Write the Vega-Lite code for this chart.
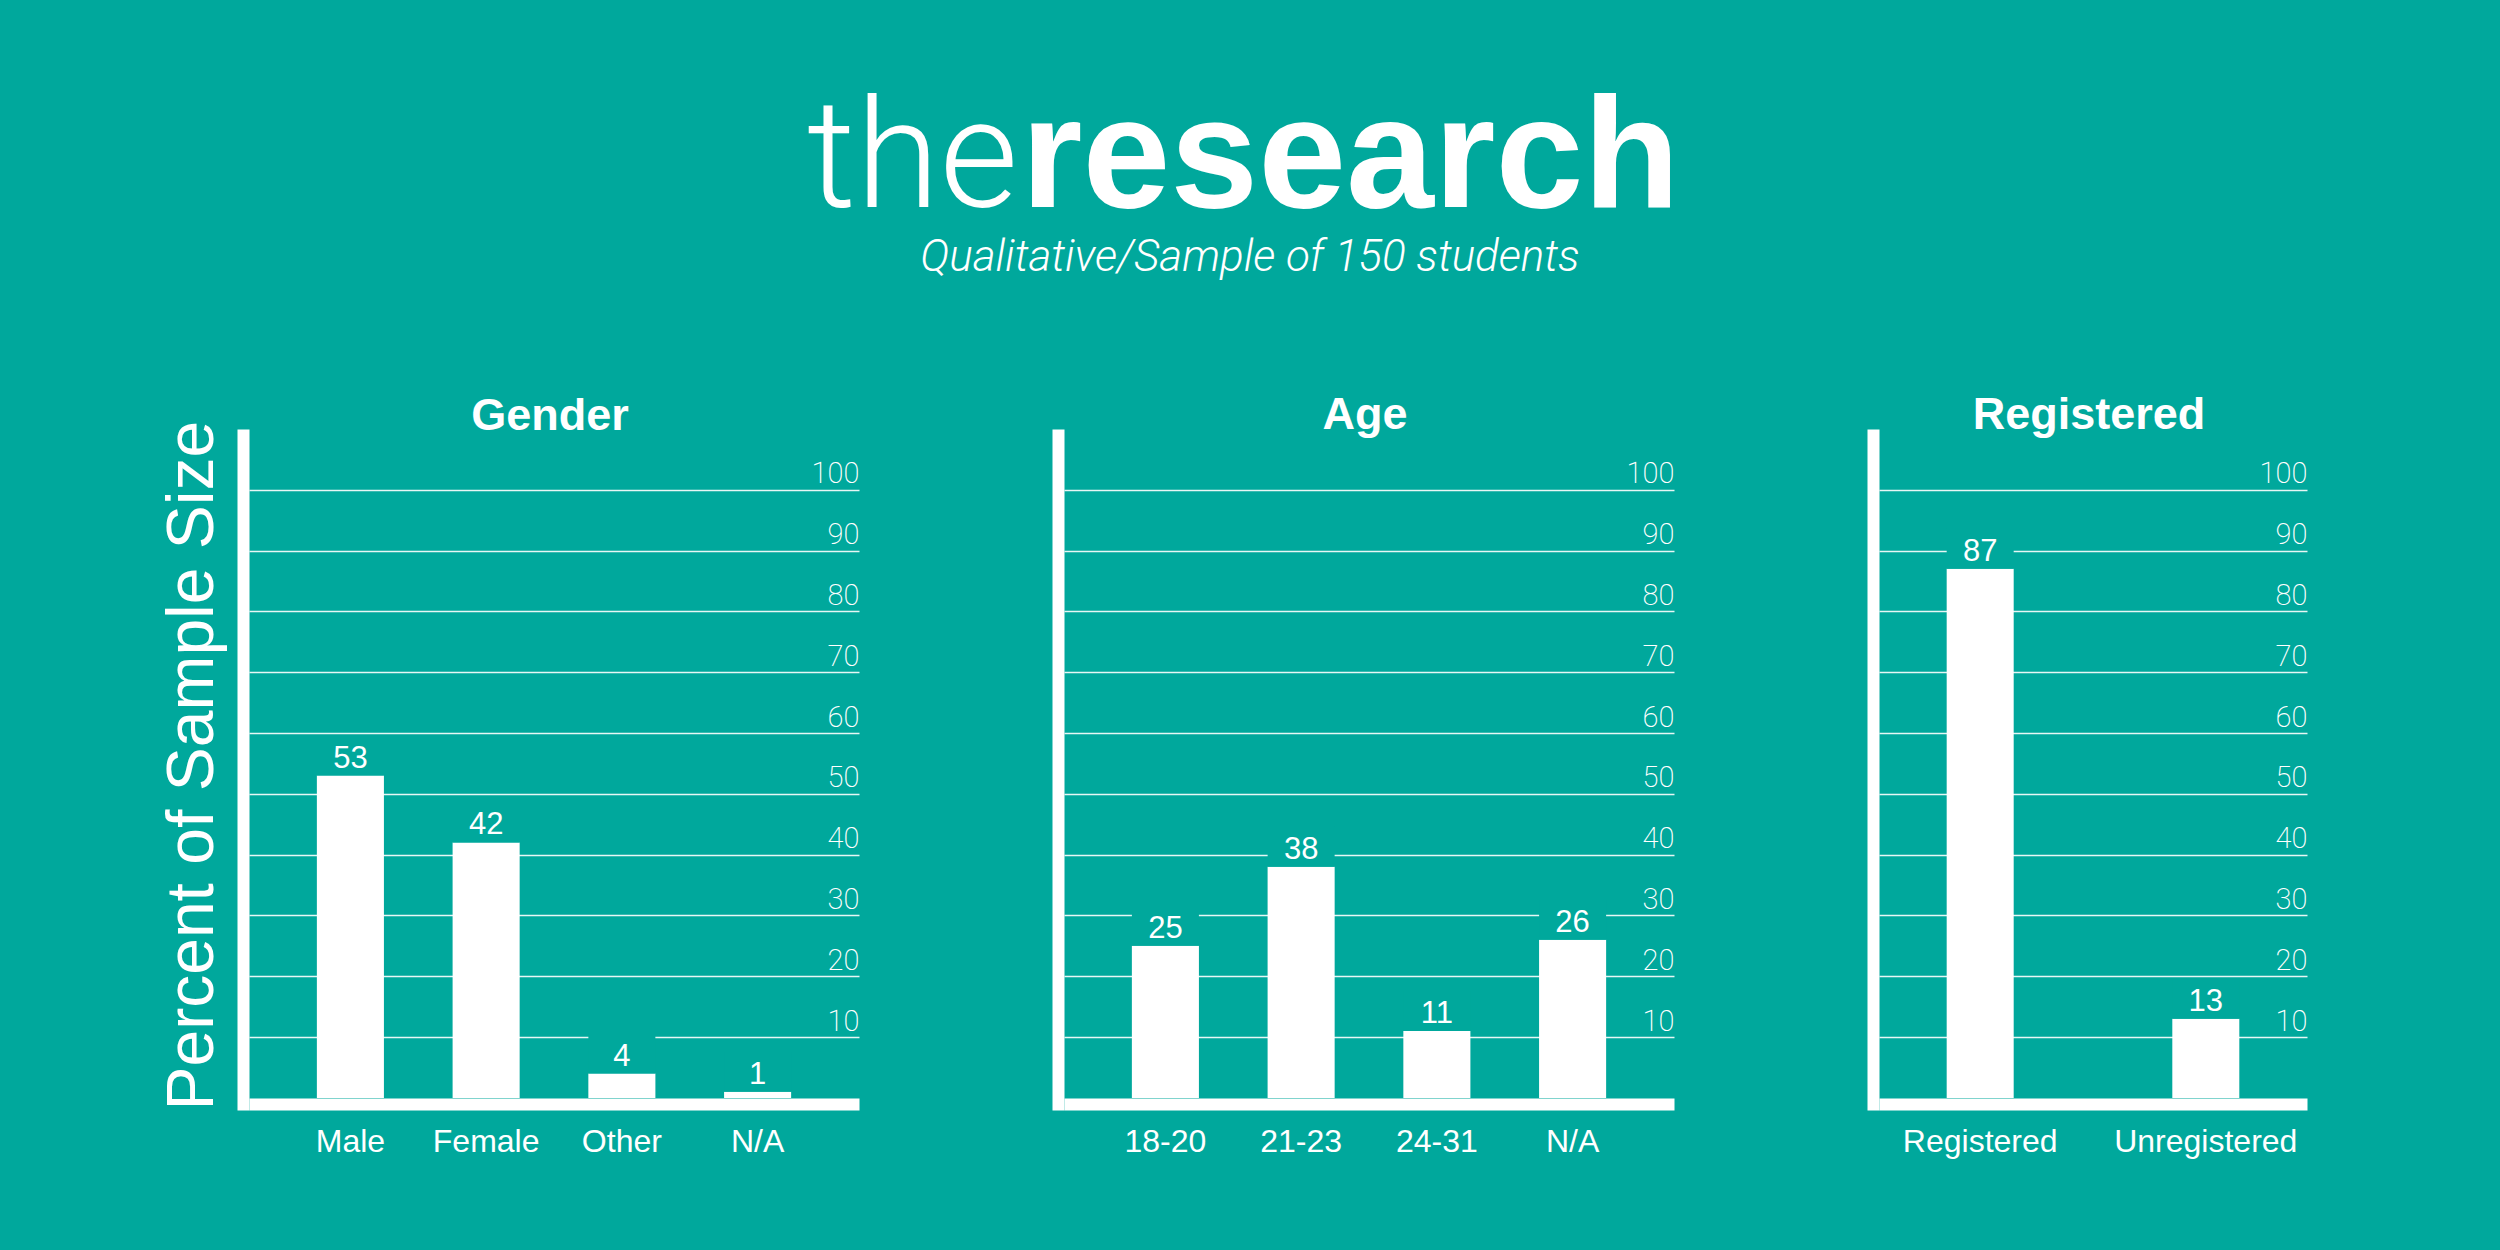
{
  "$schema": "https://vega.github.io/schema/vega-lite/v6.json",
  "background": "#00a89c",
  "padding": {"left": 159, "top": 0, "right": 200, "bottom": 100},
  "config": {
    "view": {"stroke": null},
    "title": {"font": "Liberation Sans", "fontSize": 45, "fontWeight": "bold", "color": "white", "anchor": "middle", "baseline": "alphabetic", "offset": -3, "dx": -4, "frame": "group"}
  },
  "vconcat": [
    {
      "width": 2002,
      "height": 414,
      "view": {"fill": "#00a89c", "stroke": null},
      "data": {"values": [{"t": "the"}, {"t": "research"}, {"t": "Qualitative/Sample of 150 students"}]},
      "layer": [
        {
          "transform": [{"filter": "datum.t == 'the'"}],
          "mark": {"type": "text", "align": "right", "baseline": "alphabetic", "font": "Roboto", "fontWeight": 300, "fontSize": 152, "color": "white", "dx": -232},
          "encoding": {"text": {"field": "t"}}
        },
        {
          "transform": [{"filter": "datum.t == 'research'"}],
          "mark": {"type": "text", "align": "left", "baseline": "alphabetic", "font": "Liberation Sans", "fontWeight": "bold", "fontSize": 158, "color": "white", "dx": -229},
          "encoding": {"text": {"field": "t"}}
        },
        {
          "transform": [{"filter": "datum.t == 'Qualitative/Sample of 150 students'"}],
          "mark": {"type": "text", "align": "center", "baseline": "alphabetic", "font": "Roboto", "fontWeight": 300, "fontStyle": "italic", "fontSize": 44, "color": "white", "dy": 64},
          "encoding": {"text": {"field": "t"}}
        }
      ]
    },
    {
      "hconcat": [
        {
          "width": 610,
          "height": 669,
          "title": {"text": "Gender", "offset": -19},
          "data": {"values": [{"cat": "Male", "pct": 53}, {"cat": "Female", "pct": 42}, {"cat": "Other", "pct": 4}, {"cat": "N/A", "pct": 1}]},
          "encoding": {
            "x": {"field": "cat", "type": "nominal", "sort": null, "scale": {"paddingInner": 0.506, "paddingOuter": 0.5},
              "axis": {"orient": "bottom", "domain": true, "domainColor": "white", "domainWidth": 12, "ticks": false, "tickSize": 0, "labelAngle": 0, "labelLimit": 0, "labelFont": "Liberation Sans", "labelFontSize": 32, "labelColor": "white", "labelBaseline": "alphabetic", "labelPadding": 47, "title": null, "grid": false}}
          },
          "layer": [
            {
              "mark": {"type": "bar", "color": "white"},
              "encoding": {"y": {"field": "pct", "type": "quantitative", "scale": {"domain": [-1, 109], "nice": false, "zero": false},
                "axis": {"orient": "right", "values": [10, 20, 30, 40, 50, 60, 70, 80, 90, 100], "grid": true, "gridColor": "white", "gridWidth": 1.6, "gridOpacity": 0.9, "domain": false, "ticks": false, "tickSize": 0, "labelAlign": "right", "labelBaseline": "alphabetic", "labelOffset": -7, "labelPadding": 0, "labelFont": "Roboto", "labelFontWeight": 200, "labelFontSize": 29, "labelColor": "white", "labelOverlap": false, "labelFlush": false, "title": null}}}
            },
            {
              "mark": {"type": "tick", "thickness": 40, "size": 67, "yOffset": -20, "color": "#00a89c", "opacity": 1},
              "encoding": {"y": {"field": "pct", "type": "quantitative",
                "axis": {"orient": "left", "offset": 6, "domain": true, "domainColor": "white", "domainWidth": 12, "domainCap": "square", "grid": false, "ticks": false, "labels": false, "title": "Percent of Sample Size", "titleFont": "Liberation Sans", "titleFontSize": 66, "titleFontWeight": "normal", "titleColor": "white", "titleAngle": -90, "titleAlign": "left", "titleBaseline": "alphabetic", "titleX": -31, "titleY": 675}}}
            },
            {
              "mark": {"type": "text", "baseline": "alphabetic", "dy": -8, "font": "Liberation Sans", "fontSize": 31, "color": "white"},
              "encoding": {"y": {"field": "pct", "type": "quantitative", "axis": null}, "text": {"field": "pct"}}
            }
          ],
          "resolve": {"axis": {"y": "independent"}}
        },
        {
          "width": 610,
          "height": 669,
          "title": "Age",
          "data": {"values": [{"cat": "18-20", "pct": 25}, {"cat": "21-23", "pct": 38}, {"cat": "24-31", "pct": 11}, {"cat": "N/A", "pct": 26}]},
          "encoding": {
            "x": {"field": "cat", "type": "nominal", "sort": null, "scale": {"paddingInner": 0.506, "paddingOuter": 0.5},
              "axis": {"orient": "bottom", "domain": true, "domainColor": "white", "domainWidth": 12, "ticks": false, "tickSize": 0, "labelAngle": 0, "labelLimit": 0, "labelFont": "Liberation Sans", "labelFontSize": 32, "labelColor": "white", "labelBaseline": "alphabetic", "labelPadding": 47, "title": null, "grid": false}}
          },
          "layer": [
            {
              "mark": {"type": "bar", "color": "white"},
              "encoding": {"y": {"field": "pct", "type": "quantitative", "scale": {"domain": [-1, 109], "nice": false, "zero": false},
                "axis": {"orient": "right", "values": [10, 20, 30, 40, 50, 60, 70, 80, 90, 100], "grid": true, "gridColor": "white", "gridWidth": 1.6, "gridOpacity": 0.9, "domain": false, "ticks": false, "tickSize": 0, "labelAlign": "right", "labelBaseline": "alphabetic", "labelOffset": -7, "labelPadding": 0, "labelFont": "Roboto", "labelFontWeight": 200, "labelFontSize": 29, "labelColor": "white", "labelOverlap": false, "labelFlush": false, "title": null}}}
            },
            {
              "mark": {"type": "tick", "thickness": 40, "size": 67, "yOffset": -20, "color": "#00a89c", "opacity": 1},
              "encoding": {"y": {"field": "pct", "type": "quantitative",
                "axis": {"orient": "left", "offset": 6, "domain": true, "domainColor": "white", "domainWidth": 12, "domainCap": "square", "grid": false, "ticks": false, "labels": false, "title": null}}}
            },
            {
              "mark": {"type": "text", "baseline": "alphabetic", "dy": -8, "font": "Liberation Sans", "fontSize": 31, "color": "white"},
              "encoding": {"y": {"field": "pct", "type": "quantitative", "axis": null}, "text": {"field": "pct"}}
            }
          ],
          "resolve": {"axis": {"y": "independent"}}
        },
        {
          "width": 428,
          "height": 669,
          "title": "Registered",
          "data": {"values": [{"cat": "Registered", "pct": 87}, {"cat": "Unregistered", "pct": 13}]},
          "encoding": {
            "x": {"field": "cat", "type": "nominal", "sort": null, "scale": {"paddingInner": 0.703, "paddingOuter": 0.3},
              "axis": {"orient": "bottom", "domain": true, "domainColor": "white", "domainWidth": 12, "ticks": false, "tickSize": 0, "labelAngle": 0, "labelLimit": 0, "labelFont": "Liberation Sans", "labelFontSize": 32, "labelColor": "white", "labelBaseline": "alphabetic", "labelPadding": 47, "title": null, "grid": false}}
          },
          "layer": [
            {
              "mark": {"type": "bar", "color": "white"},
              "encoding": {"y": {"field": "pct", "type": "quantitative", "scale": {"domain": [-1, 109], "nice": false, "zero": false},
                "axis": {"orient": "right", "values": [10, 20, 30, 40, 50, 60, 70, 80, 90, 100], "grid": true, "gridColor": "white", "gridWidth": 1.6, "gridOpacity": 0.9, "domain": false, "ticks": false, "tickSize": 0, "labelAlign": "right", "labelBaseline": "alphabetic", "labelOffset": -7, "labelPadding": 0, "labelFont": "Roboto", "labelFontWeight": 200, "labelFontSize": 29, "labelColor": "white", "labelOverlap": false, "labelFlush": false, "title": null}}}
            },
            {
              "mark": {"type": "tick", "thickness": 40, "size": 67, "yOffset": -20, "color": "#00a89c", "opacity": 1},
              "encoding": {"y": {"field": "pct", "type": "quantitative",
                "axis": {"orient": "left", "offset": 6, "domain": true, "domainColor": "white", "domainWidth": 12, "domainCap": "square", "grid": false, "ticks": false, "labels": false, "title": null}}}
            },
            {
              "mark": {"type": "text", "baseline": "alphabetic", "dy": -8, "font": "Liberation Sans", "fontSize": 31, "color": "white"},
              "encoding": {"y": {"field": "pct", "type": "quantitative", "axis": null}, "text": {"field": "pct"}}
            }
          ],
          "resolve": {"axis": {"y": "independent"}}
        }
      ],
      "spacing": 205,
      "bounds": "flush"
    }
  ],
  "spacing": 21,
  "bounds": "flush"
}
